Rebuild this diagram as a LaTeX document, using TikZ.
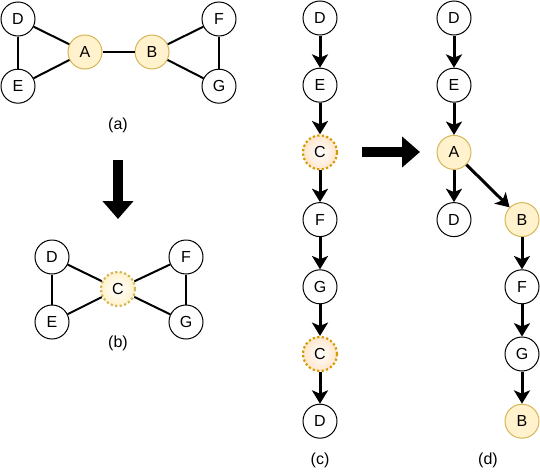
\documentclass[tikz,border=0pt]{standalone}
\usepackage{fontspec}
\setmainfont{Liberation Sans}
\usetikzlibrary{arrows.meta, positioning}
\definecolor{hlfill}{HTML}{FFF2CC}
\definecolor{hldraw}{HTML}{D6B656}
\definecolor{orfill}{HTML}{FFE6CC}
\definecolor{ordraw}{HTML}{D79B00}
\tikzset{
  vtx/.style={circle, draw=black, line width=0.75pt, minimum size=25.5pt,
              inner sep=0pt, font=\fontsize{12}{14}\selectfont},
  hl/.style={vtx, fill=hlfill, draw=hldraw},
  merged/.style={vtx, draw=hldraw, line width=1.6pt,
                 dash pattern=on 1.7pt off 1.7pt,
                 inner color=white, outer color=hlfill},
  mergedo/.style={merged, draw=ordraw, outer color=orfill},
  edge/.style={draw=black, line width=1.5pt},
  arc/.style={-{Stealth[length=10pt, width=12pt, inset=2.5pt]}, draw=black,
              line width=2.25pt},
  bigarrow/.style={-{Triangle[length=13.5pt, width=22.5pt]}, draw=black,
                   line width=7.5pt},
  caption/.style={font=\fontsize{12}{14}\selectfont},
}

\begin{document}
\begin{tikzpicture}[x=0.75pt, y=-0.75pt, node distance=50.4pt, on grid]
  \useasboundingbox (0,0) rectangle (540,475);

  % (a) original graph
  \node[hl] (aA) at (85,52) {A};
  \node[hl, right=50.25pt of aA] (aB) {B};
  \node[vtx] (aD) at (18,19) {D};
  \node[vtx, below=of aD] (aE) {E};
  \node[vtx] (aF) at (219,19) {F};
  \node[vtx, below=of aF] (aG) {G};
  \draw[edge] (aD)--(aE); \draw[edge] (aD)--(aA); \draw[edge] (aE)--(aA);
  \draw[edge] (aA)--(aB);
  \draw[edge] (aB)--(aF); \draw[edge] (aB)--(aG); \draw[edge] (aF)--(aG);
  \node[caption] (capa) at (118,125) {(a)};

  % contraction arrow
  \coordinate (downs) at (118,160);
  \coordinate (downe) at (118,219);
  \draw[bigarrow] (downs)--(downe);

  % (b) merged graph
  \node[merged] (bC) at (118,289) {C};
  \node[vtx] (bD) at (52,257) {D};
  \node[vtx, below=48.75pt of bD] (bE) {E};
  \node[vtx] (bF) at (186,257) {F};
  \node[vtx, below=48.75pt of bF] (bG) {G};
  \draw[edge] (bD)--(bE); \draw[edge] (bD)--(bC); \draw[edge] (bE)--(bC);
  \draw[edge] (bC)--(bF); \draw[edge] (bC)--(bG); \draw[edge] (bF)--(bG);
  \node[caption] (capb) at (118,343) {(b)};

  % (c) walk on merged graph
  \node[vtx] (cD) at (320,18) {D};
  \node[vtx, below=of cD] (cE) {E};
  \node[mergedo, below=of cE] (cC1) {C};
  \node[vtx, below=of cC1] (cF) {F};
  \node[vtx, below=of cF] (cG) {G};
  \node[mergedo, below=of cG] (cC2) {C};
  \node[vtx, below=of cC2] (cD2) {D};
  \draw[arc] (cD)--(cE); \draw[arc] (cE)--(cC1); \draw[arc] (cC1)--(cF);
  \draw[arc] (cF)--(cG); \draw[arc] (cG)--(cC2); \draw[arc] (cC2)--(cD2);
  \node[caption] (capc) at (320,460) {(c)};

  % expansion arrow
  \coordinate (rights) at (362,152);
  \coordinate (righte) at (420,152);
  \draw[bigarrow] (rights)--(righte);

  % (d) expanded walk
  \node[vtx] (dD) at (454,18) {D};
  \node[vtx, below=of dD] (dE) {E};
  \node[hl, below=of dE] (dA) {A};
  \node[vtx, below=of dA] (dD2) {D};
  \node[hl, right=51pt of dD2] (dB) {B};
  \node[vtx, below=of dB] (dF) {F};
  \node[vtx, below=of dF] (dG) {G};
  \node[hl, below=of dG] (dB2) {B};
  \draw[arc] (dD)--(dE); \draw[arc] (dE)--(dA); \draw[arc] (dA)--(dD2);
  \draw[arc] (dA)--(dB);
  \draw[arc] (dB)--(dF); \draw[arc] (dF)--(dG); \draw[arc] (dG)--(dB2);
  \node[caption] (capd) at (488,460) {(d)};
\end{tikzpicture}
\end{document}
